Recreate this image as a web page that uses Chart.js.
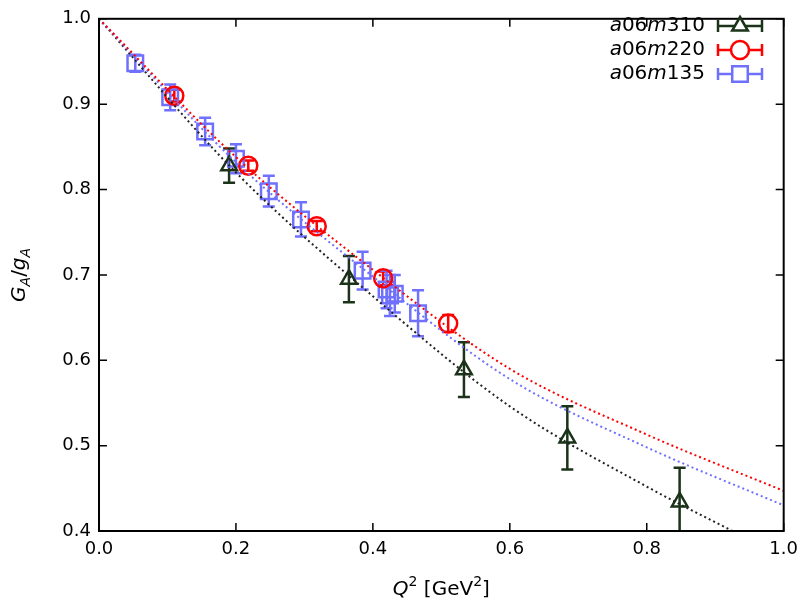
<!DOCTYPE html>
<html>
<head>
<meta charset="utf-8">
<script src="https://cdn.jsdelivr.net/npm/chart.js@4"></script>
<style>
  body { margin: 0; background: #fff; }
  #wrap { width: 806px; height: 606px; }
</style>
</head>
<body>
<div id="wrap"><canvas id="c"></canvas></div>
<script>
// data points: Q^2, G_A/g_A, error
const q310 = [0.19, 0.365, 0.533, 0.684, 0.848];
const g310 = [0.828, 0.695, 0.589, 0.509, 0.434];
const e310 = [0.020, 0.027, 0.032, 0.037, 0.040];

const q220 = [0.110, 0.218, 0.318, 0.415, 0.510];
const g220 = [0.910, 0.828, 0.757, 0.696, 0.643];
const e220 = [0.007, 0.006, 0.006, 0.008, 0.010];

const q135 = [0.053, 0.104, 0.155, 0.200, 0.248, 0.295, 0.385, 0.420, 0.425, 0.432, 0.466];
const g135 = [0.948, 0.908, 0.868, 0.836, 0.798, 0.765, 0.705, 0.683, 0.676, 0.678, 0.655];
const e135 = [0.010, 0.015, 0.016, 0.017, 0.018, 0.020, 0.022, 0.022, 0.024, 0.022, 0.027];

// fit curves
const fitX = [0, 0.2, 0.4, 0.6, 0.8, 1.0];
const fit220 = [1.0, 0.838, 0.706, 0.590, 0.513, 0.447];
const fit135 = [1.0, 0.832, 0.698, 0.578, 0.498, 0.430];
const fit310X = [0, 0.2, 0.4, 0.6, 0.8, 0.925];
const fit310 = [1.0, 0.820, 0.675, 0.546, 0.452, 0.400];

const xTicks = [0, 0.2, 0.4, 0.6, 0.8, 1.0];
const yTicks = [0.4, 0.5, 0.6, 0.7, 0.8, 0.9, 1.0];

const cDark = '#1a3319';
const cRed = '#ff0000';
const cBlue = '#7070ff';
const FONT = '"DejaVu Sans"';

const pts = (xs, ys, es) => xs.map((x, i) => ({ x: x, y: ys[i], e: es ? es[i] : 0 }));

function fitSet(xs, ys, color) {
    return {
        type: 'line', data: pts(xs, ys), borderColor: color, borderWidth: 2,
        borderDash: [2, 3], pointRadius: 0, cubicInterpolationMode: 'monotone', fill: false
    };
}
function markSet(label, xs, ys, es, color, style) {
    return {
        type: 'scatter', label: label, data: pts(xs, ys, es), borderColor: color,
        backgroundColor: 'rgba(0,0,0,0)', borderWidth: 2.5, pointStyle: style,
        pointRadius: style === 'rect' ? 11 : 9
    };
}

// draw runs of [text, italic, sub] left to right
function runs(ctx, parts, x, y, size) {
    parts.forEach(p => {
        const s = p[2] ? size * 0.7 : size;
        ctx.font = (p[1] ? 'italic ' : '') + s + 'px ' + FONT;
        ctx.fillText(p[0], x, y + (p[2] === 'sub' ? size * 0.3 : p[2] === 'sup' ? -size * 0.4 : 0));
        x += ctx.measureText(p[0]).width;
    });
    return x;
}
function runsWidth(ctx, parts, size) {
    let w = 0;
    parts.forEach(p => {
        const s = p[2] ? size * 0.7 : size;
        ctx.font = (p[1] ? 'italic ' : '') + s + 'px ' + FONT;
        w += ctx.measureText(p[0]).width;
    });
    return w;
}

const errPlugin = {
    id: 'errbars',
    beforeDatasetsDraw(chart) {
        const ctx = chart.ctx, ys = chart.scales.y, xs = chart.scales.x;
        chart.data.datasets.forEach(ds => {
            if (ds.type !== 'scatter') return;
            ctx.save();
            ctx.strokeStyle = ds.borderColor; ctx.lineWidth = 2.5;
            ds.data.forEach(p => {
                const px = xs.getPixelForValue(p.x);
                const y1 = Math.min(ys.getPixelForValue(p.y - p.e), ys.bottom);
                const y2 = ys.getPixelForValue(p.y + p.e);
                ctx.beginPath();
                ctx.moveTo(px, y1); ctx.lineTo(px, y2);
                ctx.moveTo(px - 6, y2); ctx.lineTo(px + 6, y2);
                if (y1 < ys.bottom) { ctx.moveTo(px - 6, y1); ctx.lineTo(px + 6, y1); }
                ctx.stroke();
            });
            ctx.restore();
        });
    },
    afterDraw(chart) {
        const ctx = chart.ctx, a = chart.chartArea;
        const items = chart.data.datasets.filter(d => d.type === 'scatter');
        ctx.save();
        ctx.fillStyle = '#000';
        ctx.textBaseline = 'middle'; ctx.textAlign = 'left';
        items.forEach((d, i) => {
            const y = 26 + i * 24, x = 730;
            const m = d.label.match(/a06m(\d+)/);
            const parts = [['a', true], ['06', false], ['m', true], [m[1], false]];
            ctx.fillStyle = '#000';
            runs(ctx, parts, 705 - runsWidth(ctx, parts, 20), y, 20);
            ctx.strokeStyle = d.borderColor; ctx.lineWidth = 2.5;
            ctx.beginPath();
            ctx.moveTo(x - 12, y); ctx.lineTo(x + 32, y);
            ctx.moveTo(x - 12, y - 6); ctx.lineTo(x - 12, y + 6);
            ctx.moveTo(x + 32, y - 6); ctx.lineTo(x + 32, y + 6);
            ctx.stroke();
            ctx.fillStyle = '#fff';
            Chart.helpers.drawPoint(ctx, { pointStyle: d.pointStyle, radius: d.pointRadius, borderWidth: 2.5 }, x + 10, y);
        });
        // axis titles
        ctx.fillStyle = '#000';
        const xt = [['Q', true], ['2', false, 'sup'], [' [GeV', false], ['2', false, 'sup'], [']', false]];
        runs(ctx, xt, (a.left + a.right) / 2 - runsWidth(ctx, xt, 20) / 2, 590, 20);
        const yt = [['G', true], ['A', true, 'sub'], ['/', false], ['g', true], ['A', true, 'sub']];
        ctx.translate(20, (a.top + a.bottom) / 2);
        ctx.rotate(-Math.PI / 2);
        runs(ctx, yt, -runsWidth(ctx, yt, 20) / 2, 0, 20);
        ctx.restore();
    }
};

new Chart(document.getElementById('c'), {
    data: {
        datasets: [
            fitSet(fitX, fit220, cRed),
            fitSet(fitX, fit135, cBlue),
            fitSet(fit310X, fit310, '#222'),
            markSet('a06m310', q310, g310, e310, cDark, 'triangle'),
            markSet('a06m220', q220, g220, e220, cRed, 'circle'),
            markSet('a06m135', q135, g135, e135, cBlue, 'rect')
        ]
    },
    options: {
        animation: false, responsive: true, maintainAspectRatio: false,
        layout: { padding: { top: 12, right: 19, left: 0, bottom: 0 } },
        plugins: { legend: { display: false }, tooltip: { enabled: false } },
        scales: {
            x: {
                type: 'linear', min: 0, max: 1,
                afterBuildTicks: s => { s.ticks = xTicks.map(v => ({ value: v })); },
                afterFit: s => { s.height = 75; },
                grid: { display: false, drawTicks: false },
                border: { color: '#000', width: 2 },
                ticks: { color: '#000', font: { size: 18, family: 'DejaVu Sans' }, padding: 8, callback: v => v.toFixed(1) }
            },
            y: {
                min: 0.4, max: 1.0,
                afterBuildTicks: s => { s.ticks = yTicks.map(v => ({ value: v })); },
                afterFit: s => { s.width = 99; },
                grid: { display: false, drawTicks: false },
                border: { color: '#000', width: 2 },
                ticks: { color: '#000', font: { size: 18, family: 'DejaVu Sans' }, padding: 8, callback: v => v.toFixed(1) }
            }
        }
    },
    plugins: [errPlugin, {
        id: 'frame',
        afterDatasetsDraw(chart) {
            const a = chart.chartArea, ctx = chart.ctx;
            ctx.save();
            ctx.strokeStyle = '#000'; ctx.lineWidth = 2;
            ctx.strokeRect(a.left, a.top, a.right - a.left, a.bottom - a.top);
            ctx.lineWidth = 1.5;
            ctx.beginPath();
            xTicks.forEach(v => {
                const px = chart.scales.x.getPixelForValue(v);
                ctx.moveTo(px, a.bottom); ctx.lineTo(px, a.bottom - 8);
                ctx.moveTo(px, a.top); ctx.lineTo(px, a.top + 8);
            });
            yTicks.forEach(v => {
                const py = chart.scales.y.getPixelForValue(v);
                ctx.moveTo(a.left, py); ctx.lineTo(a.left + 8, py);
                ctx.moveTo(a.right, py); ctx.lineTo(a.right - 8, py);
            });
            ctx.stroke();
            ctx.restore();
        }
    }]
});
</script>
</body>
</html>
